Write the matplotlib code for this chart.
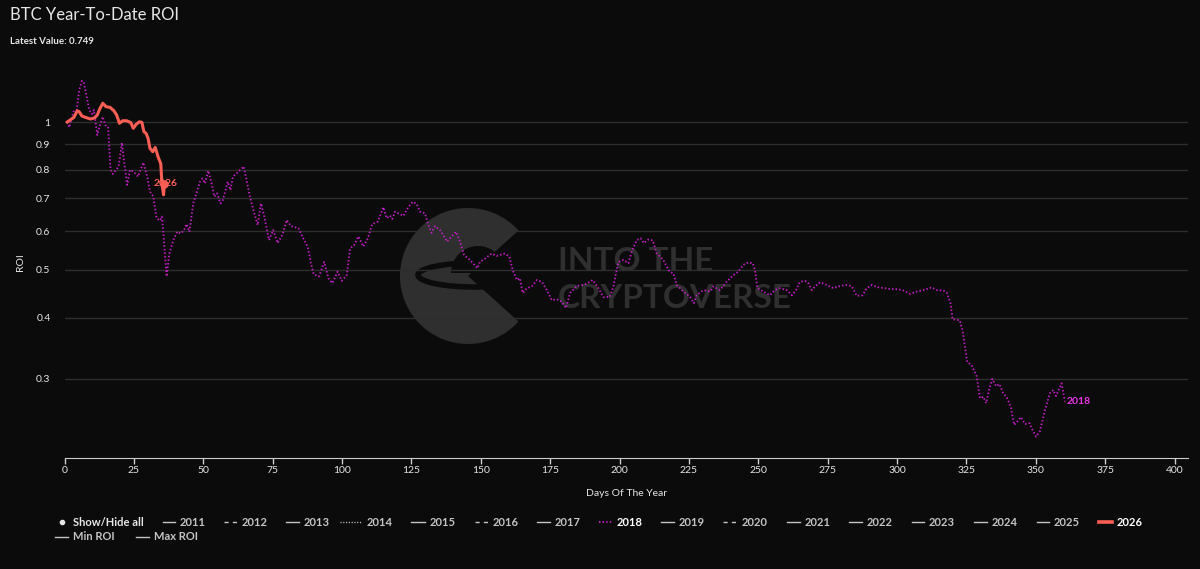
"""BTC year-to-date ROI chart (2018 vs 2026), dark theme."""

import matplotlib

matplotlib.use("Agg")
import matplotlib.pyplot as plt
from matplotlib.lines import Line2D
from matplotlib.patches import Ellipse, Wedge
from matplotlib.ticker import NullLocator

# ---- data ------------------------------------------------------------------
days_2018 = [
    1.0, 1.7, 3.2, 4.4, 5.3, 6.3, 7.0, 8.0, 8.9, 9.9, 10.6, 11.8, 12.8, 13.8,
    14.7, 15.7, 16.6, 17.4, 18.6, 19.5, 20.7, 21.4, 22.6, 23.6, 25.0, 26.5,
    28.4, 29.8, 30.8, 32.0, 33.2, 34.4, 35.1, 35.9, 36.8, 37.8, 39.2, 40.6,
    41.9, 43.1, 44.0, 45.0, 46.4, 47.9, 48.8, 49.7, 50.6, 51.8, 53.0, 54.0,
    55.0, 56.2, 57.1, 58.8, 59.8, 60.7, 62.6, 64.6, 66.8, 68.4, 69.6, 70.8,
    72.0, 73.7, 75.2, 76.8, 78.5, 80.1, 81.6, 84.3, 85.7, 87.6, 88.8, 89.8,
    91.7, 93.6, 95.1, 96.5, 98.4, 99.9, 101.7, 102.9, 104.4, 105.9, 107.7,
    109.3, 110.9, 112.9, 114.9, 116.1, 117.3, 118.1, 119.1, 120.3, 122.1,
    123.9, 125.5, 126.9, 128.1, 129.9, 131.1, 132.3, 133.5, 135.3, 137.9,
    139.5, 141.1, 142.5, 144.0, 146.1, 148.8, 149.7, 151.5, 153.9, 155.7,
    158.7, 160.3, 161.5, 163.0, 164.1, 165.1, 166.6, 168.4, 170.2, 172.0,
    173.8, 175.6, 177.4, 179.2, 180.7, 182.2, 184.6, 187.0, 188.8, 190.3,
    192.4, 194.2, 196.6, 197.8, 199.6, 201.4, 203.2, 204.4, 206.2, 207.6,
    208.8, 210.4, 212.0, 213.4, 215.8, 218.0, 219.4, 220.6, 223.0, 225.4,
    226.8, 227.8, 230.2, 232.6, 233.8, 236.2, 238.6, 241.0, 242.8, 244.6,
    246.4, 248.0, 248.8, 249.7, 251.8, 254.2, 256.0, 257.8, 260.2, 262.1,
    263.6, 265.0, 266.8, 268.0, 269.3, 270.5, 272.3, 274.7, 277.0, 279.5,
    281.9, 283.7, 285.5, 287.6, 289.1, 290.9, 293.3, 295.7, 298.1, 300.5,
    302.3, 304.7, 307.1, 309.5, 312.5, 314.3, 316.7, 317.9, 319.3, 320.0,
    322.6, 323.6, 324.5, 325.3, 326.9, 328.7, 329.9, 331.1, 332.1, 333.3,
    334.3, 335.7, 336.9, 338.2, 339.6, 341.0, 342.2, 343.4, 344.6, 346.1,
    347.7, 348.9, 350.1, 351.5, 353.3, 355.1, 356.3, 357.3, 359.3, 360.5,
]
roi_2018 = [
    1.000, 0.975, 1.049, 1.058, 1.162, 1.213, 1.200, 1.126, 1.058, 1.038,
    1.058, 0.941, 0.986, 1.025, 0.986, 0.978, 0.799, 0.784, 0.799, 0.812,
    0.908, 0.837, 0.745, 0.799, 0.792, 0.774, 0.827, 0.774, 0.722, 0.705,
    0.637, 0.630, 0.642, 0.567, 0.485, 0.540, 0.575, 0.598, 0.593, 0.603,
    0.620, 0.598, 0.683, 0.727, 0.756, 0.768, 0.750, 0.796, 0.750, 0.705,
    0.716, 0.683, 0.694, 0.756, 0.727, 0.774, 0.792, 0.812, 0.705, 0.652,
    0.617, 0.683, 0.642, 0.575, 0.603, 0.567, 0.589, 0.632, 0.614, 0.608,
    0.585, 0.558, 0.516, 0.490, 0.485, 0.519, 0.481, 0.470, 0.496, 0.475,
    0.488, 0.553, 0.562, 0.585, 0.558, 0.580, 0.620, 0.627, 0.671, 0.637,
    0.645, 0.635, 0.657, 0.652, 0.644, 0.671, 0.688, 0.681, 0.657, 0.652,
    0.617, 0.595, 0.614, 0.603, 0.571, 0.585, 0.598, 0.571, 0.536, 0.524,
    0.504, 0.519, 0.527, 0.540, 0.534, 0.540, 0.532, 0.500, 0.477, 0.481,
    0.449, 0.459, 0.463, 0.477, 0.473, 0.455, 0.434, 0.436, 0.431, 0.418,
    0.449, 0.464, 0.466, 0.471, 0.477, 0.459, 0.440, 0.441, 0.463, 0.519,
    0.524, 0.516, 0.545, 0.575, 0.580, 0.567, 0.577, 0.574, 0.540, 0.524,
    0.496, 0.492, 0.466, 0.452, 0.441, 0.428, 0.444, 0.455, 0.452, 0.463,
    0.455, 0.473, 0.488, 0.496, 0.512, 0.518, 0.516, 0.500, 0.459, 0.452,
    0.444, 0.455, 0.459, 0.455, 0.444, 0.455, 0.473, 0.475, 0.470, 0.455,
    0.463, 0.472, 0.466, 0.459, 0.464, 0.466, 0.463, 0.443, 0.444, 0.459,
    0.466, 0.461, 0.459, 0.457, 0.457, 0.454, 0.447, 0.452, 0.455, 0.461,
    0.455, 0.454, 0.450, 0.428, 0.397, 0.395, 0.377, 0.349, 0.325, 0.320,
    0.304, 0.274, 0.276, 0.268, 0.287, 0.300, 0.290, 0.293, 0.281, 0.275,
    0.263, 0.242, 0.246, 0.251, 0.243, 0.244, 0.236, 0.229, 0.235, 0.259,
    0.281, 0.285, 0.277, 0.294, 0.270,
]

days_2026 = [
    1.0, 2.0, 3.4, 4.6, 5.3, 6.3, 8.0, 9.4, 10.9, 11.8, 12.8, 13.8, 15.0,
    16.4, 17.8, 18.8, 19.8, 21.0, 22.4, 23.9, 24.8, 25.8, 27.0, 27.9, 28.6,
    29.4, 30.1, 30.8, 31.8, 32.7, 33.7, 34.7, 35.1, 35.7, 36.0,
]
roi_2026 = [
    1.000, 1.009, 1.022, 1.054, 1.049, 1.028, 1.020, 1.014, 1.020, 1.033,
    1.066, 1.092, 1.074, 1.071, 1.054, 1.033, 0.994, 1.006, 1.006, 0.997,
    0.971, 0.989, 1.001, 0.998, 0.956, 0.948, 0.927, 0.884, 0.870, 0.888,
    0.850, 0.822, 0.750, 0.711, 0.749,
]
latest_value = 0.749

y_ticks = [0.3, 0.4, 0.5, 0.6, 0.7, 0.8, 0.9, 1.0]
y_tick_labels = ["0.3", "0.4", "0.5", "0.6", "0.7", "0.8", "0.9", "1"]
x_ticks = list(range(0, 401, 25))

legend_years = [str(y) for y in range(2011, 2027)]
legend_styles = ["-", "--", "-", ":", "-", "--", "-", ":", "-", "--",
                 "-", "-", "-", "-", "-", "-"]
legend_shown = ["2018", "2026"]

# ---- style ----------------------------------------------------------------
W, H = 1200, 569
BG = "#0b0b0c"
GRID = "#2e2e2e"
TEXT = "#e6e6e6"
HIDDEN = "#c4c4c4"
C2018 = "#c81ec8"
C2018_LABEL = "#ec34e4"
C2026 = "#fa5f55"
WATERMARK = "#2f2f2f"
DOTS = (0, (0.8, 1.2))

plt.rcParams["font.family"] = ["Lato", "DejaVu Sans"]

fig = plt.figure(figsize=(W / 100, H / 100), dpi=100, facecolor=BG)

# overlay in pixel coordinates for title, legend and watermark
chrome = fig.add_axes([0, 0, 1, 1], zorder=-1)
chrome.set_xlim(0, W)
chrome.set_ylim(H, 0)
chrome.set_axis_off()

# watermark logo
chrome.add_patch(Wedge((468, 276), 68, 42, 318, color=WATERMARK, lw=0))
chrome.add_patch(Wedge((478, 273), 27, 180, 360, color=BG, lw=0))
chrome.add_patch(Ellipse((474, 275), 112, 24, facecolor="none",
                         edgecolor=BG, lw=4))
chrome.text(558, 261, "INTO THE", color=WATERMARK, fontsize=24,
            fontweight="bold", va="center", ha="left")
chrome.text(558, 298, "CRYPTOVERSE", color=WATERMARK, fontsize=24,
            fontweight="bold", va="center", ha="left")

# title / subtitle
chrome.text(10, 15, "BTC Year-To-Date ROI", color=TEXT, fontsize=12,
            va="center", ha="left")
chrome.text(10, 41, f"Latest Value: {latest_value:.3f}", color=TEXT,
            fontsize=7, fontweight="bold", va="center", ha="left")

# ---- main plot ------------------------------------------------------------
x0, x1 = 0, 405
left_px, right_px, top_px, bottom_px = 64.5, 1188.4, 66, 458
ax = fig.add_axes([left_px / W, 1 - bottom_px / H,
                   (right_px - left_px) / W, (bottom_px - top_px) / H])
ax.set_facecolor("none")
ax.set_yscale("log")
ax.set_xlim(x0, x1)
ax.set_ylim(0.2072, 1.3)

ax.set_yticks(y_ticks)
ax.set_yticklabels(y_tick_labels)
ax.yaxis.set_minor_locator(NullLocator())
ax.set_xticks(x_ticks)
ax.grid(axis="y", color=GRID, lw=1)
ax.grid(axis="x", visible=False)

for side in ("top", "right", "left"):
    ax.spines[side].set_visible(False)
ax.spines["bottom"].set_color("#cccccc")
ax.tick_params(axis="y", length=0, pad=10, labelsize=7.5, labelcolor=TEXT)
ax.tick_params(axis="x", length=4.5, width=1, color="#cccccc", pad=1.5,
               labelsize=7.5, labelcolor=TEXT)

ax.set_xlabel("Days Of The Year", color=TEXT, fontsize=7.5, labelpad=10)
ax.set_ylabel("ROI", color=TEXT, fontsize=7.5, labelpad=8)

ax.plot(days_2018, roi_2018, color=C2018, lw=1.3, linestyle=DOTS, zorder=3)
ax.plot(days_2026, roi_2026, color=C2026, lw=2.2, solid_joinstyle="round",
        zorder=4)
ax.plot(days_2026[-1], roi_2026[-1], "o", color=C2026, ms=5, zorder=5)

ax.annotate("2026", (days_2026[-1], roi_2026[-1]), xytext=(1, 0),
            textcoords="offset points", color=C2026, fontsize=7.5,
            fontweight="bold", ha="center", va="center", zorder=6)
ax.annotate("2018", (days_2018[-1], roi_2018[-1]), xytext=(1.5, 0),
            textcoords="offset points", color=C2018_LABEL, fontsize=7.5,
            fontweight="bold", ha="left", va="center", zorder=6)

# ---- legend (drawn by hand, Highcharts style) -----------------------------
row1_y, row2_y = 522, 537
sym_starts = [163, 224, 286, 340, 411, 475, 537, 599, 661, 723, 787, 849,
              912, 974, 1037, 1099]
text_starts = [180, 242, 304, 367, 430, 493, 555, 617, 679, 742, 805, 867,
               929, 992, 1054, 1117]
LEG_FS = 8

chrome.plot(62, row1_y, "o", color=TEXT, ms=3)
chrome.text(73, row1_y, "Show/Hide all", color=TEXT, fontsize=LEG_FS,
            fontweight="bold", va="center", ha="left")

for year, style, xs, xt in zip(legend_years, legend_styles, sym_starts,
                               text_starts):
    shown = year in legend_shown
    xe = xt - 5
    if year == "2018":
        col, lw, ls = C2018, 1.3, DOTS
    elif year == "2026":
        col, lw, ls = C2026, 2.6, "-"
    else:
        col, lw = HIDDEN, 1.0
        ls = {"-": "-", "--": (0, (3, 3)), ":": DOTS}[style]
    chrome.add_line(Line2D([xs, xe], [row1_y, row1_y], color=col, lw=lw,
                           linestyle=ls))
    chrome.text(xt, row1_y, year, color="#ffffff" if shown else HIDDEN,
                fontsize=LEG_FS, fontweight="bold", va="center", ha="left")

for name, xs, xt in (("Min ROI", 55, 73), ("Max ROI", 136, 154)):
    chrome.add_line(Line2D([xs, xt - 5], [row2_y, row2_y], color=HIDDEN,
                           lw=1.0))
    chrome.text(xt, row2_y, name, color=HIDDEN, fontsize=LEG_FS,
                fontweight="bold", va="center", ha="left")

fig.savefig("out.png", dpi=100, facecolor=BG)
